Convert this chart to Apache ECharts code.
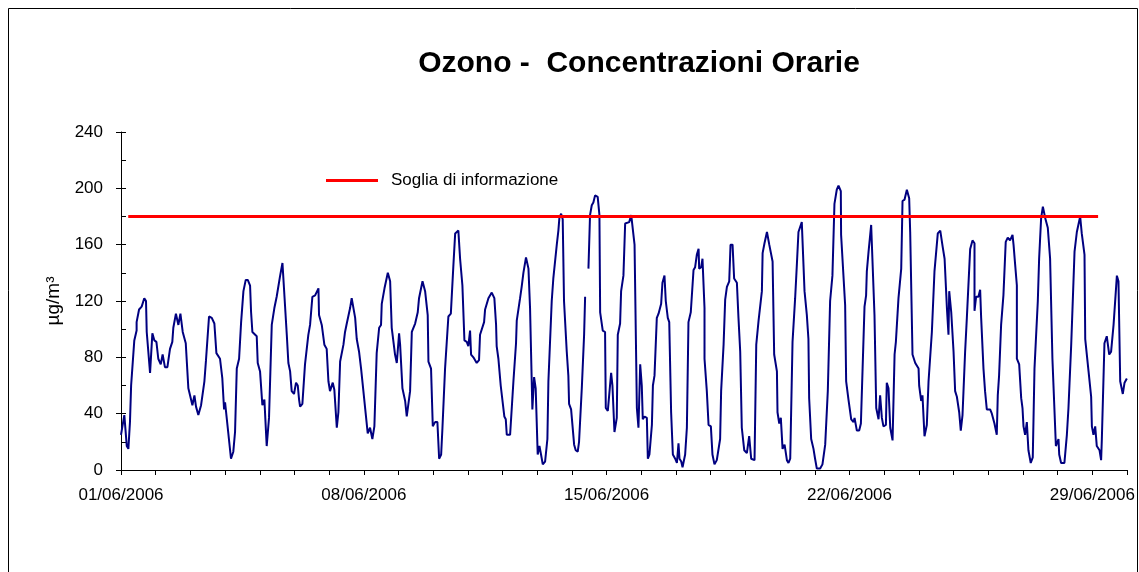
<!DOCTYPE html>
<html>
<head>
<meta charset="utf-8">
<title>Ozono - Concentrazioni Orarie</title>
<script src="https://cdn.jsdelivr.net/npm/echarts@6/dist/echarts.min.js"></script>
<style>
  html, body { margin: 0; padding: 0; background: #fff; }
  #chart { width: 1139px; height: 572px; }
</style>
</head>
<body>
<div id="chart"></div>
<script>
// ore dal 01/06/2006 00:00 (vertici della spezzata)
const ozoneHours = [
  0, 2.3, 4, 5.1, 6.2, 7, 9.2, 10.8, 10.8, 12.5, 14.3, 16.1, 17.3, 17.8, 20.1, 21.7, 23.1,
  24.5, 25.8, 27.5, 28.8, 30.4, 32.1, 33.9, 35.5, 36.2, 38, 39.7, 41.1, 42.7, 44.8, 46.6,
  49.4, 50.8, 51.9, 53.5, 55.4, 57.7, 58.8, 60.9, 62.8, 64.6, 66, 68.5, 70.1, 71.3, 72,
  73.1, 76.1, 77.7, 78.9, 80.1, 81.7, 83.1, 84.7, 86.3, 87.7, 89.3, 90, 90.9, 93.9, 94.6,
  96.2, 97.8, 99.2, 100.8, 102.4, 104.3, 106.1, 107.7, 108.9, 110.1, 111.7,
  114.7, 115.8, 117, 118.1, 119.7, 121.1, 122.3, 123.2, 123.9, 125.5, 127.3, 129.6, 130.8,
  132.4, 134.3, 136.6, 137, 138.9, 140.7, 142.3, 143.5, 144.6, 146.5, 147.6, 149.3, 150.4,
  151.6, 153.9, 155, 156.2, 158.5, 159.6, 160.8, 162, 163.1, 164.7, 166.1, 167.7, 168.9,
  170.7, 172.3, 173.9, 175.3, 176.9, 178.6, 179.9, 180.4, 182.3, 184.6, 186.2, 187.3,
  189.6, 190.8, 192.4, 193.1, 194.7, 196.6, 197.7, 198.9, 200, 201.2, 203.5, 205.3, 206.2,
  208.6, 210.4, 212.2, 212.7, 214.5, 215.7, 217.3, 218.9, 220.1, 221.5, 222.4, 224.2,
  226.5, 228.2, 230, 231.2,
  233.4, 234.6, 236.2, 237.6, 239.2, 240.3, 241.5, 242.2, 243.8, 246.1, 247.7, 248.4,
  251.2, 251.9, 254.2, 256.5, 258.3, 259.5, 259.9, 261.1, 262.7, 263.9, 265.2, 266.2,
  266.9, 269.2, 271.5, 273.3, 273.8, 276.1, 277.2, 278.4, 280.2, 281.9, 283, 284.6, 285.8,
  286.9, 288.3, 289.5, 290.6, 291.8, 293.4, 295, 295.7, 298, 299.1, 301.5, 302.6, 303.3,
  304.5, 305.6, 306.5, 308.4, 309.5, 310, 311.4, 312.3, 313.5, 314.6, 316, 316.9, 318.8,
  320.4, 321.1, 322.3, 323.4, 324.5, 325.7, 326.8, 328, 329.8, 331, 331.5, 333.3, 334.9,
  335.4, 336.8, 337.7, 339.1, 340, 341.4, 343, 343.7, 345.3, 346, 347.6,
  348.8, 350, 351.6, 353, 353.9, 355.3, 356.9, 358, 359.2, 360.3, 361, 362.2, 363.8, 364.5,
  365.6, 367.3, 368, 369.1, 370.7, 371.9, 373.7, 374.6, 376, 376.9, 378.3, 379.3, 380.6,
  381.8, 383.4, 384.6, 385.7, 386.4, 387.6, 388.5, 390.3, 391.5, 392.6, 394.2, 396.1,
  397.2, 398.4, 399.6, 400, 401.4, 402.3, 403.7, 403.7, 405.3, 406.5, 408.1, 409.2, 410.6,
  412.2, 414.5, 415.2, 416.9, 418, 419.2, 420.8, 421.7, 423.1, 424.2, 426.1, 427.2, 428.4,
  429.5, 431.2, 433, 434.6, 436, 438.3, 439.5, 441.1, 443.4, 443.9, 445.2, 446.9, 448.5,
  450.8, 451.9, 453.8, 454.2, 455.4, 456.5, 457.7, 459.1, 460.7, 461.8, 463, 464.6,
  466.4, 467.6, 468.7, 469.9, 471, 471.9, 472.9, 474.5, 475.6, 476.1, 477.5, 479.1, 480.2,
  481.4, 483.7, 485.3, 487.2, 489, 490.6, 492.2, 493.6, 495.2, 496.4, 498, 498.2, 501,
  501.7, 503.3, 504.5, 505.2, 506.8, 507.5, 509.1, 510.7, 511.9, 514.4, 515.5, 516, 517.2,
  519, 520.2, 521.3, 522.5, 524.1, 525.2, 526.4, 527.5, 529.2, 529.8, 531, 532.2, 533.8,
  535.2, 536.1, 537.9, 539.8, 540.7, 542.1, 543.7, 545.3, 546, 547.6, 549.5, 551.8, 552.2,
  553.6, 554.5, 555.9, 557.5, 558.7, 561, 562.8, 565.1, 566.8, 568.4, 569.8, 571.4, 572.5,
  573, 574.4, 576, 577.1, 578.3, 579.9, 581, 582.2,
  584, 585.2, 587.5, 589.1, 590.5, 590.5, 591.6, 593.2, 594.4, 595.1, 596.7, 597.8, 599,
  601.3, 602.5, 604.3, 605.9, 606.6, 607.5, 608.9, 610.5, 612.1, 613.5, 615.1, 616.8,
  617.5, 618.6, 619.8, 619.8, 621.4, 622.8, 623.7, 624.4, 625.5, 626.7, 627.8, 629.4,
  630.8, 632, 632.9, 634.3, 635.2, 636.6, 637.8, 639.4, 641.2, 642.8, 644.4, 646.8, 648.6,
  649.1, 650.4, 652.7, 654.4, 655.5, 657.4, 659.7, 661.3, 663.6, 664.7, 666.6, 667.1,
  669.4, 671.2, 671.7, 672.8, 674, 675.1, 677, 678.1, 678.6, 680.4, 682, 683.7, 685, 686.7,
  689, 690.1, 691.3, 693.1, 694.3, 695.9
];

// concentrazioni O3 (µg/m3); null = dato mancante
const ozoneValues = [
  25, 39, 17, 15, 34, 60, 92, 99, 105, 114, 116, 122, 120, 98, 69, 97, 92,
  91, 79, 75, 82, 73, 73, 86, 91, 101, 111, 103, 111, 98, 90, 58,
  46, 53, 45, 39, 46, 63, 78, 109, 108, 104, 83, 79, 65, 43, 48,
  48, 8, 13, 27, 72, 79, 105, 127, 135, 135, 131, 112, 98, 95, 76,
  70, 46, 50, 17, 37, 103, 115, 123, 123, 138, 147,
  96, 76, 70, 56, 54, 62, 60, 50, 45, 47, 75, 96, 103,
  123, 124, 129, 110, 103, 89, 86, 63, 56, 62, 57, 30, 41,
  77, 89, 98, 104, 115, 122, 122, 108, 93, 84, 72, 56, 44,
  26, 30, 22, 31, 83, 101, 103, 118, 129, 140, 134, 101,
  82, 76, 97, 89, 58, 49, 38, 39, 56, 98, 104, 112, 122,
  134, 127, 110, 77, 72, 31, 34, 34, 8, 11, 30, 72,
  109, 111, 146, 168,
  170, 150, 131, 92, 91, 88, 99, 82, 80, 76, 78, 96,
  105, 114, 122, 126, 122, 103, 88, 79, 60, 59, 38, 36,
  25, 25, 63, 90, 106, 122, 130, 140, 151, 143, 115, 43, 66,
  58, 11, 17, 11, 4, 6, 22, 63, 120, 136, 160, 170, 179,
  182, 178, 120, 84, 67, 47, 43, 44, 18, 14, 13, 20, 58,
  96, 123, null, 143, 181, 188, 190, 195, 194, 181, 112, 99, 98,
  44, 42, 43, 69, 60, 27, 37, 96, 104, 127, 138,
  175, 176, 176, 181, 180, 160, 44, 30, 75, 60, 36, 38, 37, 8,
  11, 32, 60, 67, 108, 111, 118, 133, 138, 120, 108, 105, 41,
  11, 8, 5, 19, 8, 6, 2, 11, 30, 105, 112, 142,
  144, 153, 157, 143, 144, 150, 115, 79, 56, 32, 31, 11, 4,
  7, 22, 56, 89, 121, 130, 134, 160, 160, 136, 133, 108, 84,
  30, 14, 12, 24, 8, 7, 89, 106, 127, 154, 161, 169, 160,
  148, 82, 70, 41, 33, 37, 15, 18, 7, 5, 8, 91,
  122, 146, 169, 168, 176, 176, 127, 110, 93, 51, 22, 15, 8,
  1, 1, 4, 18, 56, 120, 138, 189, 199, 202, 198, 167, 117,
  63, 50, 51, 36, 34, 37, 28, 28, 33, 116, 124, 141, 155,
  174, 175, 110, 44, 36, 53, 37, 31, 32, 62, 58, 30, 21,
  82, 91, 122, 143, 191, 192, 199, 193, 169, 82, 76, 72, 60,
  49, 53, 24, 32, 63, 98, 141, 168, 170, 159, 150, 115, 96,
  127, 112, 84, 56, 52, 41, 28, 39,
  84, 108, 157, 163, 161, 113, 123, 123, 128, 108, 72, 56, 43,
  43, 40, 33, 25, 53, 67, 103, 124, 162, 165, 163, 167,
  160, 146, 131, 79, 75, 51, 44, 31, 25, 34, 14, 5,
  9, 72, 91, 120, 150, 179, 187, 179, 172, 150, 79, 17, 22,
  11, 5, 5, 25, 44, 89, 155, 169, 180, 168, 153, 93,
  70, 52, 31, 25, 31, 17, 14, 7, 22, 90, 95, 82, 84, 103,
  138, 134, 63, 54, 62, 65
];

// soglia di informazione
const sogliaHours = [5, 676];
const sogliaValues = [180, 180];

const yTicks = [0, 40, 80, 120, 160, 200, 240];
const dateLabelEvery = 168; // un'etichetta ogni 7 giorni

function pad(n) { return n < 10 ? '0' + n : '' + n; }

const ozoneData = ozoneHours.map((h, i) => [h, ozoneValues[i] === null ? '-' : ozoneValues[i]]);
const sogliaData = sogliaHours.map((h, i) => [h, sogliaValues[i]]);

const font = "'Liberation Sans', Arial, sans-serif";
const chart = echarts.init(document.getElementById('chart'));

chart.setOption({
  animation: false,
  backgroundColor: '#fff',
  textStyle: { fontFamily: font, color: '#000' },
  graphic: [{
    type: 'rect',
    shape: { x: 8.5, y: 8.5, width: 1129, height: 600 },
    style: { fill: 'none', stroke: '#000', lineWidth: 1 },
    silent: true
  }],
  title: {
    text: 'Ozono -  Concentrazioni Orarie',
    left: 634,
    textAlign: 'center',
    top: 44,
    textStyle: { fontFamily: font, fontSize: 30, fontWeight: 'bold', color: '#000' }
  },
  legend: {
    data: ['Soglia di informazione'],
    left: 326,
    top: 172,
    padding: 0,
    icon: 'rect',
    itemWidth: 52,
    itemHeight: 3,
    textStyle: { fontFamily: font, fontSize: 17, color: '#000', padding: [0, 0, 0, 8] }
  },
  grid: { left: 121, right: 12, top: 132, bottom: 102 },
  xAxis: {
    type: 'value',
    min: 0,
    max: 696,
    interval: 24,
    axisLine: { lineStyle: { color: '#000', width: 1 } },
    axisTick: { show: true, length: 5, lineStyle: { color: '#000' } },
    splitLine: { show: false },
    axisLabel: {
      margin: 17,
      fontFamily: font,
      fontSize: 17,
      color: '#000',
      formatter: function (v) {
        if (v % dateLabelEvery !== 0 || v >= 696) return '';
        return pad(1 + v / 24) + '/06/2006';
      }
    }
  },
  yAxis: [{
    type: 'value',
    min: yTicks[0],
    max: yTicks[yTicks.length - 1],
    interval: 40,
    name: 'µg/m³',
    nameLocation: 'middle',
    nameGap: 56,
    nameTextStyle: { fontFamily: font, fontSize: 19, color: '#000' },
    axisLine: { show: true, lineStyle: { color: '#000', width: 1 } },
    axisTick: { show: true, length: 5, lineStyle: { color: '#000' } },
    splitLine: { show: false },
    axisLabel: { margin: 18, fontFamily: font, fontSize: 17, color: '#000' }
  }, {
    // tacche interne (principali e secondarie)
    type: 'value',
    position: 'left',
    min: 0,
    max: 240,
    interval: 20,
    axisLine: { show: false },
    axisTick: { show: true, inside: true, length: 5, lineStyle: { color: '#000' } },
    axisLabel: { show: false },
    splitLine: { show: false }
  }],
  series: [{
    name: 'Ozono',
    type: 'line',
    data: ozoneData,
    showSymbol: false,
    connectNulls: false,
    lineStyle: { color: '#000080', width: 2 },
    itemStyle: { color: '#000080' }
  }, {
    name: 'Soglia di informazione',
    type: 'line',
    data: sogliaData,
    showSymbol: false,
    lineStyle: { color: '#ff0000', width: 3 },
    itemStyle: { color: '#ff0000' }
  }]
});
</script>
</body>
</html>
